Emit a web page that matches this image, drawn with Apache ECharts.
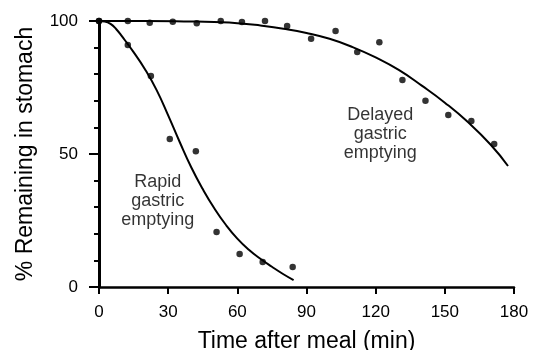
<!DOCTYPE html>
<html>
<head>
<meta charset="utf-8">
<script src="https://cdn.jsdelivr.net/npm/echarts@6/dist/echarts.min.js"></script>
<style>
html,body{margin:0;padding:0;background:#fff;}
#chart{width:541px;height:350px;}
</style>
</head>
<body>
<div id="chart"></div>
<script>
// Observed data points (time in min, % remaining)
const rapidTimes = [0, 12.5, 22.5, 30.7, 42, 51, 61, 71, 84];
const rapidValues = [100, 91, 79.3, 55.6, 51, 20.7, 12.4, 9.4, 7.5];

const delayedTimes = [0, 12.5, 22, 32, 42.4, 52.8, 62, 72, 81.6, 92, 102.6, 112, 121.6, 131.6, 141.6, 151.5, 161.5, 171.4];
const delayedValues = [100, 100, 99.3, 99.7, 99.2, 100, 99.6, 100, 98.1, 93.3, 96.2, 88.3, 92, 77.8, 70, 64.7, 62.4, 53.8];

// Fitted curves
const rapidFitTimes = [0, 2.5, 5, 7.5, 10, 15, 20, 25, 30, 35, 40, 45, 50, 55, 60, 65, 70, 75, 80, 84.4];
const rapidFitValues = [100, 99.8, 98.9, 96.9, 94.2, 88.3, 81.8, 74, 64.5, 54.5, 45, 36.8, 29.6, 23.4, 18.2, 14, 10.6, 7.6, 4.8, 2.6];

const delayedFitTimes = [0, 20, 40, 50, 60, 70, 80, 90, 100, 110, 120, 130, 140, 150, 160, 170, 177.4];
const delayedFitValues = [100, 100, 99.8, 99.6, 99.2, 98.3, 97.1, 95.5, 93.3, 90.2, 86.3, 81.6, 75.7, 69.3, 62.0, 53.4, 45.5];

// Tick labels
const xTicks = [0, 30, 60, 90, 120, 150, 180];
const yTicks = [0, 50, 100];

// Annotations
const annotationTexts = ['Rapid\ngastric\nemptying', 'Delayed\ngastric\nemptying'];
const annotationPos = [[25.5, 32.3], [122, 57.5]];

const zip = (a, b) => a.map((v, i) => [v, b[i]]);
const FONT = 'Liberation Sans';

const chart = echarts.init(document.getElementById('chart'));
chart.setOption({
  animation: false,
  backgroundColor: '#fff',
  grid: { left: 99, right: 27, top: 21, bottom: 63, containLabel: false, outerBoundsMode: 'none' },
  xAxis: {
    type: 'value', min: 0, max: 180, interval: 30,
    name: 'Time after meal (min)', nameLocation: 'middle', nameGap: 43,
    nameTextStyle: { fontFamily: FONT, fontSize: 23, color: '#000' },
    axisLine: { show: true, lineStyle: { color: '#000', width: 2.5 } },
    axisTick: { show: true, length: 7, lineStyle: { color: '#000', width: 2 } },
    axisLabel: { fontFamily: FONT, fontSize: 17, color: '#000', margin: 17,
      formatter: v => xTicks.includes(v) ? String(v) : '' },
    splitLine: { show: false }
  },
  yAxis: [{
    type: 'value', min: 0, max: 100, interval: 50,
    name: '% Remaining in stomach', nameLocation: 'middle', nameGap: 62, nameRotate: 90,
    nameTextStyle: { fontFamily: FONT, fontSize: 23, color: '#000' },
    axisLine: { show: true, lineStyle: { color: '#000', width: 3 } },
    axisTick: { show: true, length: 10, lineStyle: { color: '#000', width: 2 } },
    axisLabel: { fontFamily: FONT, fontSize: 17, color: '#000', margin: 21,
      formatter: v => yTicks.includes(v) ? String(v) : '' },
    splitLine: { show: false }
  }, {
    type: 'value', min: 0, max: 100, interval: 10, position: 'left',
    axisLine: { show: false },
    axisTick: { show: true, length: 5, lineStyle: { color: '#000', width: 2 } },
    axisLabel: { show: false },
    splitLine: { show: false }
  }],
  series: [
    { type: 'line', data: zip(rapidFitTimes, rapidFitValues), smooth: 0.5, showSymbol: false,
      lineStyle: { color: '#000', width: 2 }, z: 2 },
    { type: 'line', data: zip(delayedFitTimes, delayedFitValues), smooth: 0.5, showSymbol: false,
      lineStyle: { color: '#000', width: 2 }, z: 2 },
    { type: 'scatter', data: zip(rapidTimes, rapidValues), symbolSize: 6.5,
      itemStyle: { color: '#000' }, z: 3 },
    { type: 'scatter', data: zip(delayedTimes, delayedValues), symbolSize: 6.5,
      itemStyle: { color: '#000' }, z: 3 },
    { type: 'scatter', symbolSize: 0, silent: true,
      data: annotationPos.map((p, i) => ({ value: p, label: { formatter: annotationTexts[i] } })),
      label: { show: true, position: 'inside', align: 'center', verticalAlign: 'middle',
        fontFamily: FONT, fontSize: 18, lineHeight: 19, color: '#000' } }
  ]
});
</script>
</body>
</html>
